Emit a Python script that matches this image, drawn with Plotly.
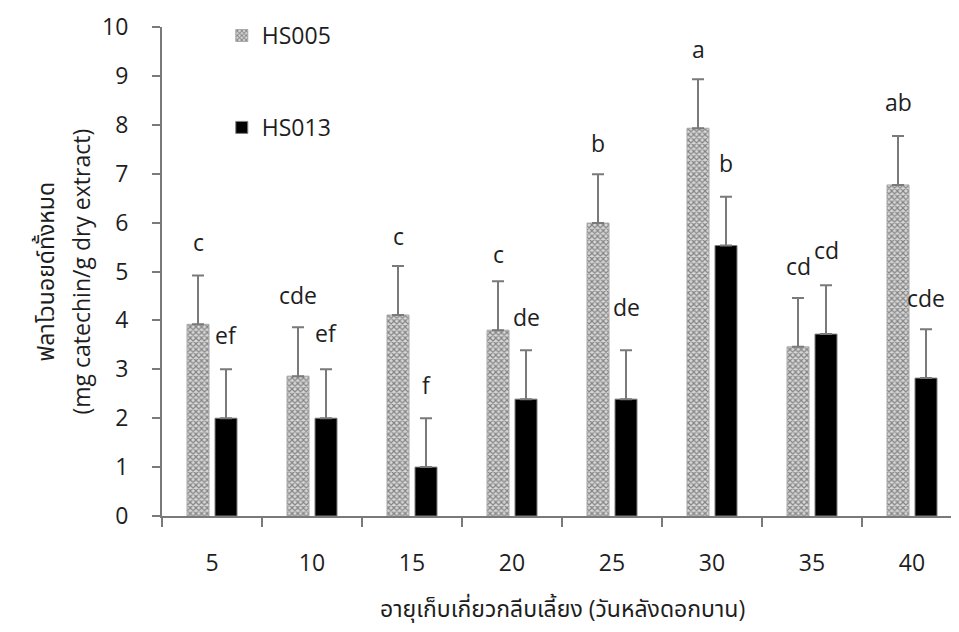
import plotly.graph_objects as go

categories = ["5", "10", "15", "20", "25", "30", "35", "40"]
hs005 = [3.92, 2.86, 4.11, 3.80, 5.99, 7.93, 3.46, 6.77]
hs013 = [2.00, 2.00, 1.00, 2.39, 2.39, 5.53, 3.72, 2.82]
err005 = [1.0, 1.0, 1.0, 1.0, 1.0, 1.0, 1.0, 1.0]
err013 = [1.0, 1.0, 1.0, 1.0, 1.0, 1.0, 1.0, 1.0]
letters005 = ["c", "cde", "c", "c", "b", "a", "cd", "ab"]
letters013 = ["ef", "ef", "f", "de", "de", "b", "cd", "cde"]
letter_y005 = [5.61, 4.52, 5.73, 5.36, 7.62, 9.54, 5.11, 8.47]
letter_y013 = [3.70, 3.74, 2.68, 4.06, 4.28, 7.21, 5.44, 4.45]

FONT = "Open Sans, Noto Sans Thai, Tahoma, sans-serif"
FS = 23
TXT = "#1e1e1e"
GREY = "#7a7a7a"

fig = go.Figure()
fig.add_trace(go.Bar(
    x=categories, y=hs005, name="HS005", legendgroup="a",
    marker=dict(color="#ffffff", line=dict(color="#a8a8a8", width=1),
                pattern=dict(shape="x", size=4, solidity=0.5,
                             fgcolor="#2e2e2e", bgcolor="#d8d8d8", fillmode="overlay")),
    error_y=dict(type="data", symmetric=False, array=err005,
                 arrayminus=[0] * len(err005), color=GREY, thickness=2, width=6),
))
fig.add_trace(go.Bar(
    x=categories, y=hs013, name="HS013", legendgroup="b",
    marker=dict(color="#000000", line=dict(color="#7f7f7f", width=1)),
    error_y=dict(type="data", symmetric=False, array=err013,
                 arrayminus=[0] * len(err013), color=GREY, thickness=2, width=6),
))

for i, (t, y) in enumerate(zip(letters005, letter_y005)):
    fig.add_annotation(x=i, y=y, text=t, showarrow=False, xshift=-14,
                       font=dict(family=FONT, size=FS, color=TXT))
for i, (t, y) in enumerate(zip(letters013, letter_y013)):
    fig.add_annotation(x=i, y=y, text=t, showarrow=False, xshift=14,
                       font=dict(family=FONT, size=FS, color=TXT))

# y-axis title (two lines)
fig.add_annotation(xref="paper", yref="paper", x=0, y=0.5, xshift=-118,
                   text="ฟลาโวนอยด์ทั้งหมด", textangle=-90, showarrow=False,
                   xanchor="center", yanchor="middle",
                   font=dict(family=FONT, size=FS, color=TXT))
fig.add_annotation(xref="paper", yref="paper", x=0, y=0.5, xshift=-82,
                   text="(mg catechin/g dry extract)", textangle=-90, showarrow=False,
                   xanchor="center", yanchor="middle",
                   font=dict(family=FONT, size=FS, color=TXT))
# x-axis title
fig.add_annotation(xref="paper", yref="paper", x=(562 - 162) / 797, y=0,
                   yshift=-92, text="อายุเก็บเกี่ยวกลีบเลี้ยง (วันหลังดอกบาน)",
                   showarrow=False, xanchor="center", yanchor="middle",
                   font=dict(family=FONT, size=FS, color=TXT))

# page has an 8px body margin, so the figure is sized/offset to compensate
fig.update_layout(
    width=951, height=624,
    margin=dict(l=154, r=0, t=19, b=116, autoexpand=False),
    paper_bgcolor="white", plot_bgcolor="white",
    barmode="group", bargap=0.44, bargroupgap=0.214,
    font=dict(family=FONT, size=FS, color=TXT),
    showlegend=True,
    legend=dict(x=0.075, y=1.0265, xanchor="left", yanchor="top",
                bgcolor="rgba(0,0,0,0)", tracegroupgap=59,
                font=dict(family=FONT, size=FS, color=TXT)),
    xaxis=dict(type="category", range=[-0.5, 7.47], showline=True, automargin=False,
               linecolor=GREY, linewidth=2, ticks="outside", tickson="boundaries",
               ticklen=9, tickwidth=2, tickcolor=GREY, showgrid=False,
               ticklabelstandoff=25, tickfont=dict(family=FONT, size=FS, color=TXT)),
    yaxis=dict(range=[0, 10], dtick=1, showline=True, linecolor=GREY, linewidth=2,
               ticks="outside", ticklen=8, tickwidth=2, tickcolor=GREY, automargin=False,
               showgrid=False, zeroline=False, ticklabelstandoff=19,
               tickfont=dict(family=FONT, size=FS, color=TXT)),
)

fig.write_html("out.html")
